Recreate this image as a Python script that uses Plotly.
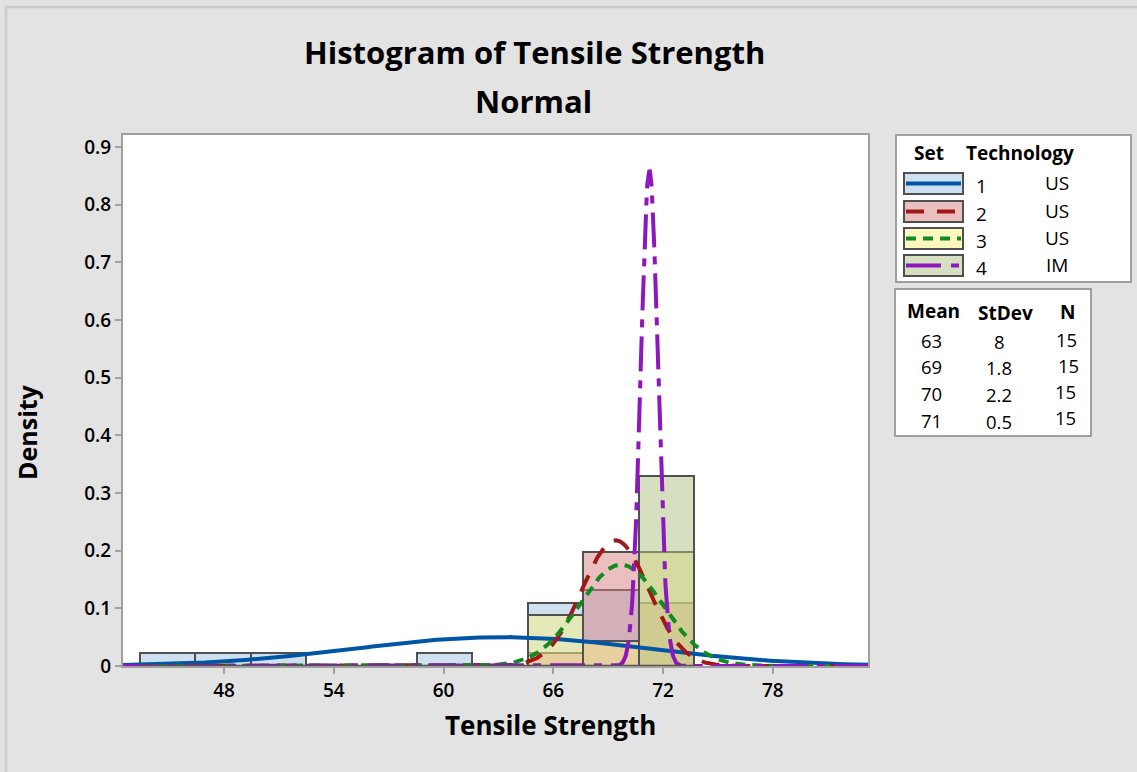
import numpy as np
import plotly.graph_objects as go

# ---------------- data ----------------
bin_start = 43.4
bin_width = 3.03
n_bins = 10
set_names = ["1", "2", "3", "4"]
technology = ["US", "US", "US", "IM"]
counts_set1 = [1, 1, 1, 0, 0, 1, 0, 5, 6, 0]
counts_set2 = [0, 0, 0, 0, 0, 0, 0, 1, 9, 5]
counts_set3 = [0, 0, 0, 0, 0, 0, 0, 4, 2, 9]
counts_set4 = [0, 0, 0, 0, 0, 0, 0, 0, 0, 15]
n_obs = [15, 15, 15, 15]
# fitted normal parameters (estimated from curve peaks)
fit_mean = [63.2, 69.4, 69.7, 71.25]
fit_sd = [7.95, 1.83, 2.27, 0.464]
# legend statistics table
leg_mean = ["63", "69", "70", "71"]
leg_sd = ["8", "1.8", "2.2", "0.5"]
leg_n = ["15", "15", "15", "15"]

x_ticks = [48, 54, 60, 66, 72, 78]
y_ticks = [0, 0.1, 0.2, 0.3, 0.4, 0.5, 0.6, 0.7, 0.8, 0.9]
y_tick_text = ["0", "0.1", "0.2", "0.3", "0.4", "0.5", "0.6", "0.7", "0.8", "0.9"]
x_range = [42.48, 83.2]
y_range = [0, 0.9208]

# ---------------- styles ----------------
fills = ["rgba(159,193,225,0.5)", "rgba(215,127,127,0.5)",
         "rgba(251,239,129,0.5)", "rgba(173,191,127,0.5)"]
swatch_fills = ["#cfe0f0", "#ebbfbf", "#fdf7c0", "#d6dfbf"]
line_colors = ["#0055a5", "#a01818", "#128a22", "#8e16be"]
dashes = ["solid", "18px,13px", "10px,7px", "35px,9px,8px,9px"]
edge = "#505050"
axis_gray = "#a0a0a0"
FONT = "Open Sans"

all_counts = [counts_set1, counts_set2, counts_set3, counts_set4]
centers = [bin_start + bin_width * (i + 0.5) for i in range(n_bins)]

fig = go.Figure()
for k in range(4):
    dens = [c / (n_obs[k] * bin_width) for c in all_counts[k]]
    fig.add_trace(go.Bar(
        x=centers, y=dens, width=bin_width,
        marker=dict(color=fills[k], line=dict(color=edge, width=2)),
        showlegend=False, hoverinfo="skip"))

xs = np.linspace(x_range[0], x_range[1], 1500)
for k in range(4):
    m, s = fit_mean[k], fit_sd[k]
    ys = np.exp(-0.5 * ((xs - m) / s) ** 2) / (s * np.sqrt(2 * np.pi))
    fig.add_trace(go.Scatter(
        x=xs, y=ys, mode="lines",
        line=dict(color=line_colors[k], width=4, dash=dashes[k]),
        showlegend=False, hoverinfo="skip"))

# ---------------- layout helpers (pixel -> paper) ----------------
L, R, T, B = 123, 868, 135, 666
W, H = R - L, B - T


def px(v):
    return (v - L) / W


def py(v):
    return (B - v) / H


shapes = []
annotations = []


def add_text(text, xc, yc, size, bold=False, angle=0):
    annotations.append(dict(
        text=("<b>%s</b>" % text) if bold else text,
        x=px(xc), y=py(yc), xref="paper", yref="paper",
        xanchor="center", yanchor="middle", showarrow=False, textangle=angle,
        borderpad=0,
        font=dict(family=FONT, size=size, color="black",
                  weight=600 if bold else 400)))


# outer light frame
shapes.append(dict(type="rect", xref="paper", yref="paper",
                   x0=px(6), x1=px(1150), y0=py(7), y1=py(790),
                   line=dict(color="#cccccc", width=2.5), fillcolor="rgba(0,0,0,0)",
                   layer="below"))
# dark baseline under bars
shapes.append(dict(type="line", xref="x", yref="y",
                   x0=bin_start, x1=bin_start + bin_width * n_bins, y0=0, y1=0,
                   line=dict(color=edge, width=2.5)))

# legend box 1
shapes.append(dict(type="rect", xref="paper", yref="paper",
                   x0=px(896), x1=px(1131), y0=py(135), y1=py(282),
                   line=dict(color=axis_gray, width=2), fillcolor="white"))
add_text("Set", 929, 153, 19, bold=True)
add_text("Technology", 1020, 153, 19, bold=True)
row_tops = [173, 201, 228, 255]
legend_dashes = ["solid", "18px,13px", "10px,7px", "35px,10px,8px,9px"]
for k in range(4):
    y0p, y1p = row_tops[k], row_tops[k] + 21
    shapes.append(dict(type="rect", xref="paper", yref="paper",
                       x0=px(904), x1=px(963), y0=py(y0p), y1=py(y1p),
                       line=dict(color=edge, width=2), fillcolor=swatch_fills[k]))
    ym = (y0p + y1p) / 2
    shapes.append(dict(type="line", xref="paper", yref="paper",
                       x0=px(906), x1=px(961), y0=py(ym), y1=py(ym),
                       line=dict(color=line_colors[k], width=4, dash=legend_dashes[k])))
    add_text(set_names[k], 981, ym + 2, 19)
    add_text(technology[k], 1057, ym - 1, 19)

# legend box 2
shapes.append(dict(type="rect", xref="paper", yref="paper",
                   x0=px(895), x1=px(1091), y0=py(289), y1=py(436),
                   line=dict(color=axis_gray, width=2), fillcolor="white"))
add_text("Mean", 933, 311, 19, bold=True)
add_text("StDev", 1005, 313, 19, bold=True)
add_text("N", 1067, 312, 19, bold=True)
row_y_mean = [340, 366, 393, 420]
row_y_sd = [341, 367, 394, 421]
row_y_n = [339, 365, 391, 417]
n_x = [1066, 1068, 1065, 1065]
for k in range(4):
    add_text(leg_mean[k], 931, row_y_mean[k], 18.5)
    add_text(leg_sd[k], 999, row_y_sd[k], 18.5)
    add_text(leg_n[k], n_x[k], row_y_n[k], 18.5)

# titles
add_text("Histogram of Tensile Strength", 534, 52, 31, bold=True)
add_text("Normal", 533, 101, 31, bold=True)
add_text("Tensile Strength", 550, 725, 26, bold=True)
add_text("Density", 27, 432, 25, bold=True, angle=-90)

axis_common = dict(showline=True, linecolor=axis_gray, linewidth=2, mirror=True,
                   ticks="outside", tickcolor=axis_gray, tickwidth=2, ticklen=6,
                   showgrid=False, zeroline=False,
                   tickfont=dict(family=FONT, size=19, color="black", weight=600))

fig.update_layout(
    width=1137, height=772,
    margin=dict(l=L, r=1137 - R, t=T, b=772 - B),
    paper_bgcolor="#e3e3e3", plot_bgcolor="white",
    barmode="overlay", bargap=0,
    xaxis=dict(range=x_range, tickvals=x_ticks, **axis_common),
    yaxis=dict(range=y_range, tickvals=y_ticks, ticktext=y_tick_text, **axis_common),
    shapes=shapes, annotations=annotations,
    showlegend=False,
)

fig.write_html("out.html")
